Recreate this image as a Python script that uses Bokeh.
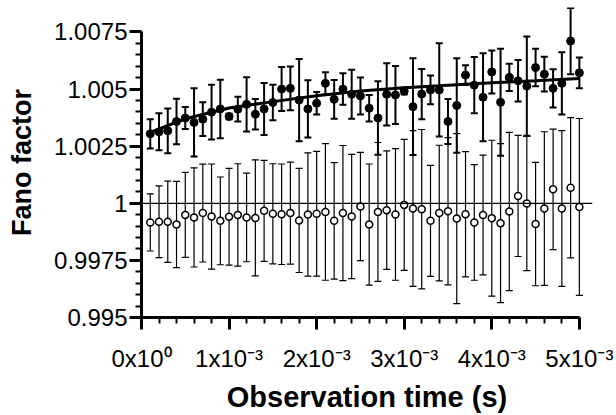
from bokeh.plotting import figure
from bokeh.models import ColumnDataSource, Whisker, TeeHead, FixedTicker, Span, Range1d
from bokeh.embed import file_html
from bokeh.resources import INLINE

# Observation time in ms
time_ms = [0.1, 0.2, 0.3, 0.4, 0.5, 0.6, 0.7, 0.8, 0.9, 1.0,
           1.1, 1.2, 1.3, 1.4, 1.5, 1.6, 1.7, 1.8, 1.9, 2.0,
           2.1, 2.2, 2.3, 2.4, 2.5, 2.6, 2.7, 2.8, 2.9, 3.0,
           3.1, 3.2, 3.3, 3.4, 3.5, 3.6, 3.7, 3.8, 3.9, 4.0,
           4.1, 4.2, 4.3, 4.4, 4.5, 4.6, 4.7, 4.8, 4.9, 5.0]

fano_filled = [1.00304, 1.00313, 1.00317, 1.00358, 1.00373, 1.00354, 1.00368, 1.00399, 1.00413, 1.00380,
               1.00412, 1.00433, 1.00390, 1.00413, 1.00441, 1.00500, 1.00503, 1.00452, 1.00413, 1.00438,
               1.00525, 1.00455, 1.00500, 1.00477, 1.00470, 1.00416, 1.00373, 1.00477, 1.00474, 1.00491,
               1.00423, 1.00478, 1.00496, 1.00496, 1.00358, 1.00428, 1.00561, 1.00517, 1.00464, 1.00575,
               1.00442, 1.00551, 1.00536, 1.00513, 1.00594, 1.00565, 1.00503, 1.00525, 1.00710, 1.00571]
err_filled = [0.00064, 0.00081, 0.00098, 0.00100, 0.00048, 0.00149, 0.00074, 0.00120, 0.00128, 0.00012,
              0.00054, 0.00119, 0.00067, 0.00114, 0.00078, 0.00096, 0.00096, 0.00180, 0.00125, 0.00049,
              0.00049, 0.00085, 0.00069, 0.00107, 0.00081, 0.00058, 0.00161, 0.00136, 0.00127, 0.00015,
              0.00212, 0.00110, 0.00063, 0.00204, 0.00099, 0.00207, 0.00043, 0.00123, 0.00193, 0.00094,
              0.00234, 0.00060, 0.00091, 0.00217, 0.00082, 0.00076, 0.00084, 0.00136, 0.00145, 0.00067]

fano_open = [0.99916, 0.99919, 0.99919, 0.99907, 0.99949, 0.99938, 0.99957, 0.99942, 0.99923, 0.99941,
             0.99949, 0.99938, 0.99936, 0.99967, 0.99954, 0.99952, 0.99957, 0.99925, 0.99951, 0.99954,
             0.99962, 0.99923, 0.99957, 0.99942, 0.99986, 0.99907, 0.99962, 0.99970, 0.99951, 0.99993,
             0.99977, 0.99974, 0.99923, 0.99957, 0.99965, 0.99933, 0.99952, 0.99916, 0.99949, 0.99935,
             0.99913, 0.99964, 1.00032, 0.99999, 0.99909, 0.99977, 1.00061, 0.99977, 1.00068, 0.99984]
err_open = [0.00125, 0.00157, 0.00178, 0.00189, 0.00186, 0.00217, 0.00214, 0.00230, 0.00192, 0.00212,
            0.00224, 0.00194, 0.00254, 0.00221, 0.00219, 0.00220, 0.00223, 0.00228, 0.00270, 0.00273,
            0.00299, 0.00255, 0.00296, 0.00272, 0.00237, 0.00265, 0.00304, 0.00259, 0.00288, 0.00287,
            0.00341, 0.00349, 0.00243, 0.00297, 0.00322, 0.00372, 0.00274, 0.00253, 0.00262, 0.00341,
            0.00348, 0.00346, 0.00265, 0.00294, 0.00270, 0.00336, 0.00264, 0.00341, 0.00307, 0.00387]

fit_time_ms = [0.1, 0.5, 1.0, 1.5, 2.0, 2.5, 3.0, 3.5, 4.0, 4.5, 5.0]
fit_fano = [1.00310, 1.00370, 1.00417, 1.00445, 1.00471, 1.00491, 1.00506, 1.00517, 1.00528, 1.00536, 1.00546]

x_ticks = [0.0, 0.001, 0.002, 0.003, 0.004, 0.005]
x_labels = ["0x10\u2070", "1x10\u207b\u00b3", "2x10\u207b\u00b3", "3x10\u207b\u00b3", "4x10\u207b\u00b3", "5x10\u207b\u00b3"]
y_ticks = [0.995, 0.9975, 1.0, 1.0025, 1.005, 1.0075]
y_labels = ["0.995", "0.9975", "1", "1.0025", "1.005", "1.0075"]

t = [v * 1e-3 for v in time_ms]
fit_t = [v * 1e-3 for v in fit_time_ms]

src_f = ColumnDataSource(dict(t=t, y=fano_filled,
                              upper=[a + b for a, b in zip(fano_filled, err_filled)],
                              lower=[a - b for a, b in zip(fano_filled, err_filled)]))
src_o = ColumnDataSource(dict(t=t, y=fano_open,
                              upper=[a + b for a, b in zip(fano_open, err_open)],
                              lower=[a - b for a, b in zip(fano_open, err_open)]))

p = figure(width=614, height=415, output_backend="svg", toolbar_location=None,
           x_range=Range1d(0, 0.00515), y_range=Range1d(0.995, 1.00857),
           min_border_left=141, min_border_right=22, min_border_top=7, min_border_bottom=96)
p.grid.visible = False
p.outline_line_color = None
p.background_fill_color = "white"
p.border_fill_color = "white"

# open series
p.add_layout(Whisker(source=src_o, base="t", upper="upper", lower="lower", dimension="height",
                     line_color="black", line_width=1.2,
                     upper_head=TeeHead(size=7, line_width=1.2, line_color="black"),
                     lower_head=TeeHead(size=7, line_width=1.2, line_color="black")))
p.add_layout(Span(location=1.0, dimension="width", line_color="black", line_width=1.3))
p.scatter("t", "y", source=src_o, marker="circle", size=7, fill_color="white",
          line_color="black", line_width=1.5)

# filled series
p.add_layout(Whisker(source=src_f, base="t", upper="upper", lower="lower", dimension="height",
                     line_color="black", line_width=2,
                     upper_head=TeeHead(size=7, line_width=2, line_color="black"),
                     lower_head=TeeHead(size=7, line_width=2, line_color="black")))
p.line(fit_t, fit_fano, line_color="black", line_width=3)
p.scatter("t", "y", source=src_f, marker="circle", size=8, fill_color="black", line_color="black")

# axes
p.xaxis.ticker = FixedTicker(ticks=x_ticks,
                             minor_ticks=[i * 0.0002 for i in range(26)])
p.xaxis.major_label_overrides = dict(zip(x_ticks, x_labels))
p.xaxis.bounds = (0, 0.005)
p.yaxis.ticker = FixedTicker(ticks=y_ticks,
                             minor_ticks=[0.995 + i * 0.0005 for i in range(26)])
p.yaxis.major_label_overrides = dict(zip(y_ticks, y_labels))
p.yaxis.bounds = (0.995, 1.0075)

p.xaxis.axis_label = "Observation time (s)"
p.yaxis.axis_label = "Fano factor"
for ax in (p.xaxis, p.yaxis):
    ax.axis_line_width = 3
    ax.axis_line_color = "black"
    ax.major_tick_line_width = 3
    ax.major_tick_line_color = "black"
    ax.minor_tick_line_width = 2
    ax.minor_tick_line_color = "black"
    ax.major_tick_out = 12
    ax.major_tick_in = 0
    ax.minor_tick_out = 6
    ax.minor_tick_in = 0
    ax.major_label_text_font = "Liberation Sans"
    ax.major_label_text_font_size = "24px"
    ax.major_label_text_color = "black"
    ax.axis_label_text_font = "Liberation Sans"
    ax.axis_label_text_font_style = "bold"
    ax.axis_label_text_color = "black"

p.xaxis.major_label_standoff = 15
p.yaxis.major_label_standoff = 2
p.xaxis.axis_label_text_font_size = "29px"
p.yaxis.axis_label_text_font_size = "27px"
p.xaxis.axis_label_standoff = 6
p.yaxis.axis_label_standoff = 14

open("out.html", "w").write(file_html(p, INLINE))
